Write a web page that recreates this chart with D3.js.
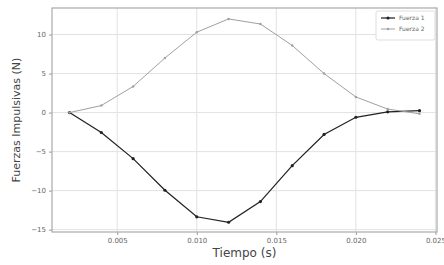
<!DOCTYPE html>
<html>
<head>
<meta charset="utf-8">
<script src="https://cdn.jsdelivr.net/npm/d3@7"></script>
<style>
  body { margin: 0; background: #fff; overflow: hidden; }
  text { font-family: "DejaVu Sans", sans-serif; }
</style>
</head>
<body>
<div id="chart"></div>
<script>
// data
let tiempo = [0.002, 0.004, 0.006, 0.008, 0.010, 0.012, 0.014, 0.016, 0.018, 0.020, 0.022, 0.024];
let fuerza1 = [0, -2.55, -5.9, -9.95, -13.35, -14.05, -11.4, -6.8, -2.8, -0.6, 0.1, 0.25];
let fuerza2 = [0, 0.9, 3.35, 7.0, 10.3, 12.0, 11.35, 8.6, 5.0, 2.0, 0.45, -0.15];
let xTicks = [0.005, 0.010, 0.015, 0.020, 0.025];
let yTicks = [-15, -10, -5, 0, 5, 10];
let seriesNames = ["Fuerza 1", "Fuerza 2"];
let seriesColors = ["#222", "#a0a0a0"];

let svgWidth = 444, svgHeight = 265;
let margin = { top: 8, right: 7, bottom: 33, left: 52 };
let chartWidth = svgWidth - margin.left - margin.right;
let chartHeight = svgHeight - margin.top - margin.bottom;

let svg = d3.select("#chart").append("svg")
  .attr("width", svgWidth)
  .attr("height", svgHeight);
let chartGroup = svg.append("g")
  .attr("transform", `translate(${margin.left}, ${margin.top})`);

let xScale = d3.scaleLinear().domain([0.0009, 0.0251]).range([0, chartWidth]);
let yScale = d3.scaleLinear().domain([-15.3, 13.4]).range([chartHeight, 0]);

// grid
chartGroup.append("g").selectAll("line").data(xTicks).enter().append("line")
  .attr("x1", d => xScale(d)).attr("x2", d => xScale(d))
  .attr("y1", 0).attr("y2", chartHeight)
  .attr("stroke", "#e2e2e2").attr("stroke-width", 1);
chartGroup.append("g").selectAll("line").data(yTicks).enter().append("line")
  .attr("y1", d => yScale(d)).attr("y2", d => yScale(d))
  .attr("x1", 0).attr("x2", chartWidth)
  .attr("stroke", "#e2e2e2").attr("stroke-width", 1);

// axes
let bottomAxis = d3.axisBottom(xScale).tickValues(xTicks).tickFormat(d3.format(".3f")).tickSize(3);
let leftAxis = d3.axisLeft(yScale).tickValues(yTicks).tickFormat(d => d < 0 ? "\u2212" + Math.abs(d) : d).tickSize(3);
let xAxisG = chartGroup.append("g").attr("transform", `translate(0, ${chartHeight})`).call(bottomAxis);
let yAxisG = chartGroup.append("g").call(leftAxis);
[xAxisG, yAxisG].forEach(g => {
  g.select(".domain").remove();
  g.selectAll("line").attr("stroke", "#999");
  g.selectAll("text").attr("fill", "#666").style("font-size", "7px");
});

// frame
chartGroup.append("rect")
  .attr("width", chartWidth).attr("height", chartHeight)
  .attr("fill", "none").attr("stroke", "#aaa").attr("stroke-width", 1.2);

// lines
let allSeries = [fuerza1, fuerza2];
let line = d3.line().x((d, i) => xScale(tiempo[i])).y(d => yScale(d));
allSeries.forEach((vals, k) => {
  chartGroup.append("path")
    .datum(vals)
    .attr("d", line)
    .attr("fill", "none")
    .attr("stroke", seriesColors[k])
    .attr("stroke-width", k === 0 ? 1.25 : 1);
  chartGroup.selectAll(".pt" + k).data(vals).enter().append("circle")
    .attr("class", "pt" + k)
    .attr("cx", (d, i) => xScale(tiempo[i]))
    .attr("cy", d => yScale(d))
    .attr("r", k === 0 ? 1.6 : 1.2)
    .attr("fill", seriesColors[k]);
});

// legend
let legend = svg.append("g").attr("transform", "translate(376, 11)");
legend.append("rect")
  .attr("width", 59).attr("height", 29).attr("rx", 2)
  .attr("fill", "#fff").attr("stroke", "#ddd");
seriesNames.forEach((name, k) => {
  let y = 7 + k * 11;
  legend.append("line")
    .attr("x1", 5).attr("x2", 19).attr("y1", y).attr("y2", y)
    .attr("stroke", seriesColors[k]).attr("stroke-width", k === 0 ? 1.25 : 1);
  legend.append("circle").attr("cx", 12).attr("cy", y).attr("r", k === 0 ? 1.6 : 1.2)
    .attr("fill", seriesColors[k]);
  legend.append("text")
    .attr("x", 23).attr("y", y + 2)
    .style("font-size", "6px").attr("fill", "#666")
    .text(name);
});

// axis labels
svg.append("text")
  .attr("transform", `translate(20, ${margin.top + chartHeight / 2}) rotate(-90)`)
  .attr("text-anchor", "middle")
  .style("font-size", "11px").attr("fill", "#444")
  .text("Fuerzas Impulsivas (N)");
svg.append("text")
  .attr("x", margin.left + chartWidth / 2).attr("y", 257)
  .attr("text-anchor", "middle")
  .style("font-size", "12px").attr("fill", "#444")
  .text("Tiempo (s)");
</script>
</body>
</html>
